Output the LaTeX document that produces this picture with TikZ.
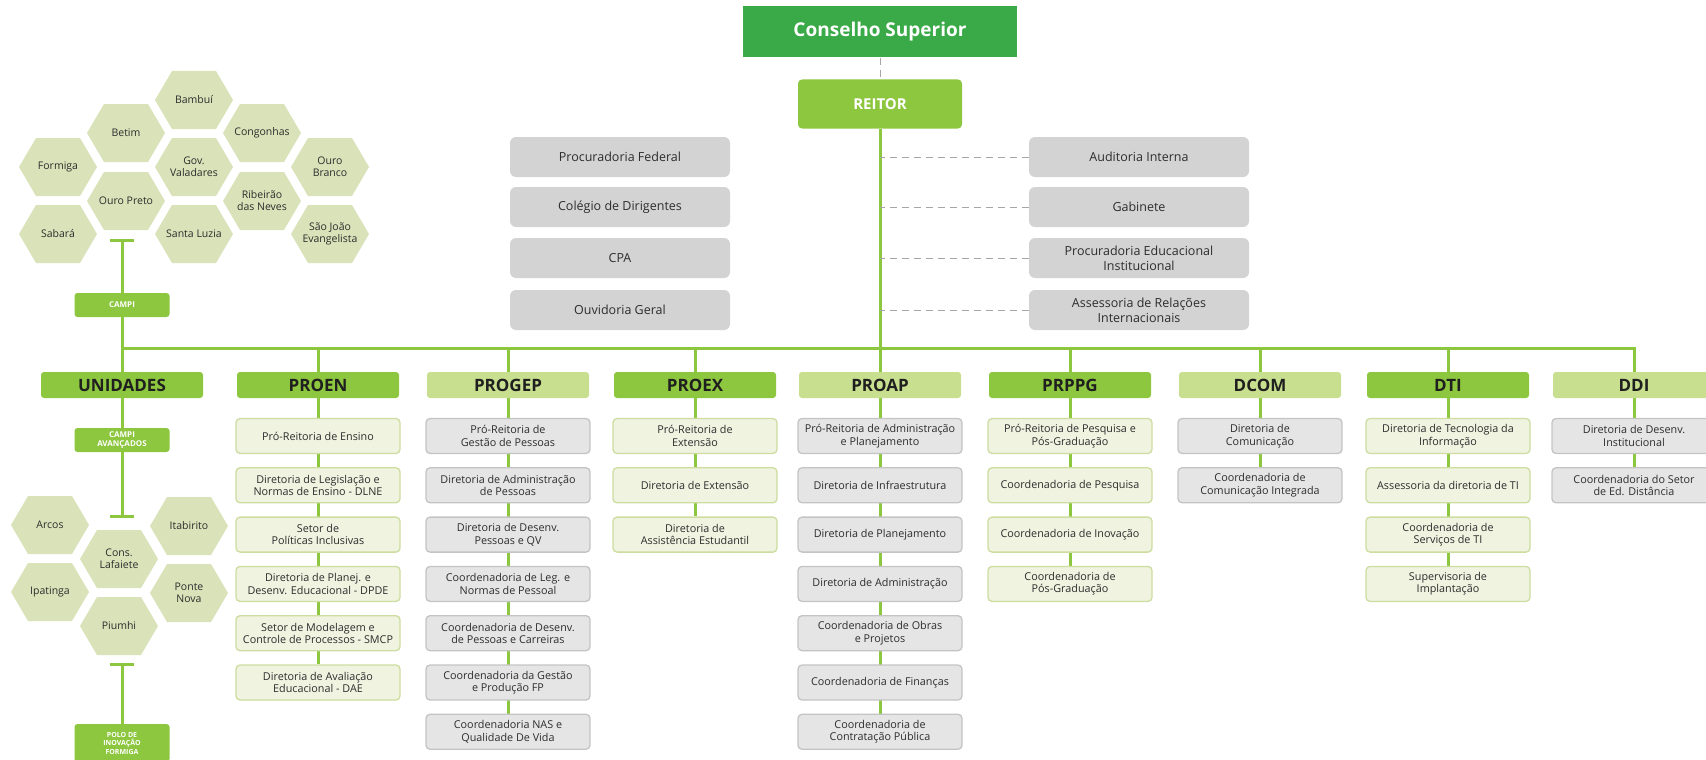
\documentclass[tikz,border=0pt]{standalone}
\usepackage{fontspec}
\setmainfont{Open Sans}
\usepackage{tikz}
\usetikzlibrary{positioning, arrows.meta, backgrounds}

\definecolor{conselho}{RGB}{58,170,72}
\definecolor{lime}{RGB}{141,198,63}
\definecolor{palelime}{RGB}{199,223,142}
\definecolor{hexgreen}{RGB}{217,226,184}
\definecolor{leafbg}{RGB}{239,243,224}
\definecolor{leafline}{RGB}{205,221,160}
\definecolor{greybg}{RGB}{229,229,229}
\definecolor{greyline}{RGB}{196,196,196}
\definecolor{staffgray}{RGB}{211,211,211}
\definecolor{ink}{RGB}{45,45,45}

\newcommand{\hexcell}[4]{%
  \fill[hexgreen] (#2,#3) ++(-39,0) -- ++(17,-29) -- ++(44,0) -- ++(17,29) -- ++(-17,29) -- ++(-44,0) -- cycle;
  \node[hexlabel] (#1) at (#2,#3) {#4};
}

\begin{document}
\begin{tikzpicture}[
    x=1pt, y=-1pt,
    node distance=13pt,
    font=\fontsize{10.8}{12.5}\selectfont,
    top/.style={rectangle, fill=conselho, text=white, font=\bfseries\fontsize{19}{22}\selectfont, minimum width=274pt, minimum height=51pt},
    chief/.style={rectangle, rounded corners=4pt, fill=lime, text=white, font=\bfseries\fontsize{15}{18}\selectfont, minimum width=164pt, minimum height=49pt},
    staff/.style={rectangle, rounded corners=6pt, fill=staffgray, text=ink, align=center, font=\fontsize{12.5}{15}\selectfont, minimum width=220pt, minimum height=40pt, inner sep=2pt},
    head/.style={rectangle, rounded corners=3pt, fill=lime, text=black!88, font=\bfseries\fontsize{17}{20}\selectfont, minimum width=162pt, minimum height=26pt, inner sep=0pt},
    headpale/.style={head, fill=palelime},
    leaf/.style={rectangle, rounded corners=4pt, draw=leafline, line width=1.3pt, fill=leafbg, text=ink, align=center, minimum width=164pt, minimum height=35pt, inner sep=1pt},
    leafgrey/.style={leaf, draw=greyline, fill=greybg},
    small/.style={rectangle, rounded corners=3pt, fill=lime, text=white, font=\bfseries\fontsize{8}{9}\selectfont, align=center, minimum width=95pt, minimum height=24pt, inner sep=1pt},
    hexlabel/.style={align=center, text=ink, font=\fontsize{10.5}{12}\selectfont},
    link/.style={draw=lime, line width=3pt},
    tie/.style={draw=gray!70, line width=0.9pt, dash pattern=on 7pt off 5pt}
]
\useasboundingbox (0,0) rectangle (1706,760);

\node[top] (conselho) at (880,32) {Conselho Superior};
\node[chief] (reitor) at (880,104) {REITOR};

\node[staff] (procfed) at (620,157) {Procuradoria Federal};
\node[staff] (colegio) at (620,207) {Colégio de Dirigentes};
\node[staff] (cpa) at (620,258) {CPA};
\node[staff] (ouvidoria) at (620,310) {Ouvidoria Geral};

\node[staff] (auditoria) at (1139,157) {Auditoria Interna};
\node[staff] (gabinete) at (1139,207) {Gabinete};
\node[staff] (proceduc) at (1139,258) {Procuradoria Educacional\\Institucional};
\node[staff] (assessoria) at (1139,310) {Assessoria de Relações\\Internacionais};

\node[head] (unid) at (122,385) {UNIDADES};
\node[head] (proen) at (318,385) {PROEN};
\node[headpale] (progep) at (508,385) {PROGEP};
\node[head] (proex) at (695,385) {PROEX};
\node[headpale] (proap) at (880,385) {PROAP};
\node[head] (prppg) at (1070,385) {PRPPG};
\node[headpale] (dcom) at (1260,385) {DCOM};
\node[head] (dti) at (1448,385) {DTI};
\node[headpale] (ddi) at (1634,385) {DDI};

\node[leaf] (proen1) at (318,436) {Pró-Reitoria de Ensino};
\node[leaf, below=of proen1] (proen2) {Diretoria de Legislação e\\Normas de Ensino - DLNE};
\node[leaf, below=of proen2] (proen3) {Setor de\\Políticas Inclusivas};
\node[leaf, below=of proen3] (proen4) {Diretoria de Planej. e\\Desenv. Educacional - DPDE};
\node[leaf, below=of proen4] (proen5) {Setor de Modelagem e\\Controle de Processos - SMCP};
\node[leaf, below=of proen5] (proen6) {Diretoria de Avaliação\\Educacional - DAE};

\node[leafgrey] (progep1) at (508,436) {Pró-Reitoria de\\Gestão de Pessoas};
\node[leafgrey, below=of progep1] (progep2) {Diretoria de Administração\\de Pessoas};
\node[leafgrey, below=of progep2] (progep3) {Diretoria de Desenv.\\Pessoas e QV};
\node[leafgrey, below=of progep3] (progep4) {Coordenadoria de Leg. e\\Normas de Pessoal};
\node[leafgrey, below=of progep4] (progep5) {Coordenadoria de Desenv.\\de Pessoas e Carreiras};
\node[leafgrey, below=of progep5] (progep6) {Coordenadoria da Gestão\\e Produção FP};
\node[leafgrey, below=of progep6] (progep7) {Coordenadoria NAS e\\Qualidade De Vida};

\node[leaf] (proex1) at (695,436) {Pró-Reitoria de\\Extensão};
\node[leaf, below=of proex1] (proex2) {Diretoria de Extensão};
\node[leaf, below=of proex2] (proex3) {Diretoria de\\Assistência Estudantil};

\node[leafgrey] (proap1) at (880,436) {Pró-Reitoria de Administração\\e Planejamento};
\node[leafgrey, below=of proap1] (proap2) {Diretoria de Infraestrutura};
\node[leafgrey, below=of proap2] (proap3) {Diretoria de Planejamento};
\node[leafgrey, below=of proap3] (proap4) {Diretoria de Administração};
\node[leafgrey, below=of proap4] (proap5) {Coordenadoria de Obras\\e Projetos};
\node[leafgrey, below=of proap5] (proap6) {Coordenadoria de Finanças};
\node[leafgrey, below=of proap6] (proap7) {Coordenadoria de\\Contratação Pública};

\node[leaf] (prppg1) at (1070,436) {Pró-Reitoria de Pesquisa e\\Pós-Graduação};
\node[leaf, below=of prppg1] (prppg2) {Coordenadoria de Pesquisa};
\node[leaf, below=of prppg2] (prppg3) {Coordenadoria de Inovação};
\node[leaf, below=of prppg3] (prppg4) {Coordenadoria de\\Pós-Graduação};

\node[leafgrey] (dcom1) at (1260,436) {Diretoria de\\Comunicação};
\node[leafgrey, below=of dcom1] (dcom2) {Coordenadoria de\\Comunicação Integrada};

\node[leaf] (dti1) at (1448,436) {Diretoria de Tecnologia da\\Informação};
\node[leaf, below=of dti1] (dti2) {Assessoria da diretoria de TI};
\node[leaf, below=of dti2] (dti3) {Coordenadoria de\\Serviços de TI};
\node[leaf, below=of dti3] (dti4) {Supervisoria de\\Implantação};

\node[leafgrey] (ddi1) at (1634,436) {Diretoria de Desenv.\\Institucional};
\node[leafgrey, below=of ddi1] (ddi2) {Coordenadoria do Setor\\de Ed. Distância};

\hexcell{bambui}{194}{100}{Bambuí}
\hexcell{betim}{126}{133}{Betim}
\hexcell{congonhas}{262}{133}{Congonhas}
\hexcell{formiga}{58}{167}{Formiga}
\hexcell{valadares}{194}{167}{Gov.\\Valadares}
\hexcell{ourobranco}{330}{167}{Ouro\\Branco}
\hexcell{ouropreto}{126}{201}{Ouro Preto}
\hexcell{neves}{262}{201}{Ribeirão\\das Neves}
\hexcell{sabara}{58}{234}{Sabará}
\hexcell{santaluzia}{194}{234}{Santa Luzia}
\hexcell{saojoao}{330}{234}{São João\\Evangelista}

\hexcell{arcos}{50}{525}{Arcos}
\hexcell{itabirito}{189}{526}{Itabirito}
\hexcell{lafaiete}{119}{559}{Cons.\\Lafaiete}
\hexcell{ipatinga}{50}{592}{Ipatinga}
\hexcell{pontenova}{189}{593}{Ponte\\Nova}
\hexcell{piumhi}{119}{626}{Piumhi}

\node[small] (campi) at (122,305) {CAMPI};
\node[small] (avancados) at (122,440) {CAMPI\\AVANÇADOS};
\node[small, font=\bfseries\fontsize{7}{8.5}\selectfont, minimum height=38pt] (polo) at (122,743) {POLO DE\\INOVAÇÃO\\FORMIGA};

\coordinate (hub) at (880,348);
\coordinate (tcampi) at (122,239);
\coordinate (tavanc) at (122,518);
\coordinate (tpolo) at (122,663);

\begin{scope}[on background layer]
\draw[link] (unid.north) |- (hub) -| (ddi.north);
\draw[link] (campi) -- (unid) -- (avancados);
\draw[link] (reitor) -- (proap) -- (proap7);
\draw[link] (proen) -- (proen.north |- hub);
\draw[link] (progep) -- (progep.north |- hub);
\draw[link] (proex) -- (proex.north |- hub);
\draw[link] (prppg) -- (prppg.north |- hub);
\draw[link] (dcom) -- (dcom.north |- hub);
\draw[link] (dti) -- (dti.north |- hub);
\draw[link] (proen) -- (proen6);
\draw[link] (progep) -- (progep7);
\draw[link] (proex) -- (proex3);
\draw[link] (prppg) -- (prppg4);
\draw[link] (dcom) -- (dcom2);
\draw[link] (dti) -- (dti4);
\draw[link] (ddi) -- (ddi2);
\end{scope}

\draw[link, -{Bar[width=24pt]}] (campi) -- (tcampi);
\draw[link, -{Bar[width=24pt]}] (avancados) -- (tavanc);
\draw[link, -{Bar[width=24pt]}] (polo) -- (tpolo);

\draw[tie] (conselho) -- (reitor);
\draw[tie] (auditoria.west) -- (auditoria.west -| reitor.south);
\draw[tie] (gabinete.west) -- (gabinete.west -| reitor.south);
\draw[tie] (proceduc.west) -- (proceduc.west -| reitor.south);
\draw[tie] (assessoria.west) -- (assessoria.west -| reitor.south);
\end{tikzpicture}
\end{document}
